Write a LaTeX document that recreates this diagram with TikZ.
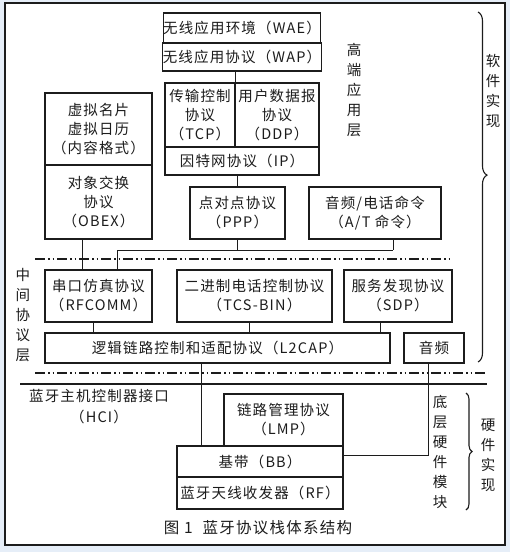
\documentclass[tikz,border=0pt]{standalone}
\usepackage{fontspec}
\setmainfont{Noto Sans CJK SC}[LetterSpace=8]
\usetikzlibrary{decorations.pathreplacing}
\definecolor{inkgray}{RGB}{28,28,28}
\definecolor{scanblue}{RGB}{230,238,248}
\newcommand{\boxfont}{\fontsize{14.5}{19}\selectfont}
\newcommand{\vfont}{\fontsize{14.5}{20}\selectfont}
\tikzset{
  box/.style={draw=inkgray, line width=1.1pt, inner sep=0pt, align=center, font=\boxfont, text=inkgray},
  vlabel/.style={align=center, inner sep=0pt, font=\vfont, text=inkgray},
  wire/.style={draw=inkgray, line width=1pt},
  layerline/.style={draw=inkgray, line width=1.4pt, dash pattern=on 10pt off 3pt on 1.5pt off 3pt on 1.5pt off 3pt},
}
\begin{document}
\begin{tikzpicture}[x=1pt, y=-1pt]
    % Frame
    \fill[scanblue] (0,0) rectangle (510,552);
    \useasboundingbox (0,0) rectangle (510,552);
    \draw[draw=inkgray, fill=white, line width=1.1pt] (5,3) rectangle (505,545);

    % High-end application layer
    \node[box, minimum width=154, minimum height=30] (wae) at (242,28) {无线应用环境（WAE）};
    \node[box, minimum width=154, minimum height=28] (wap) at (242,57) {无线应用协议（WAP）};
    \node[box, minimum width=70, minimum height=64] (tcp) at (200,115) {传输控制\\协议\\（TCP）};
    \node[box, minimum width=84, minimum height=64] (ddp) at (277,115) {用户数据报\\协议\\（DDP）};
    \node[box, minimum width=154, minimum height=28] (ip) at (242,161) {因特网协议（IP）};
    \node[box, minimum width=107, minimum height=72] (card) at (98.5,129) {虚拟名片\\虚拟日历\\（内容格式）};
    \node[box, minimum width=107, minimum height=74] (obex) at (98.5,202) {对象交换\\协议\\（OBEX）};
    \node[box, minimum width=95, minimum height=52] (ppp) at (237.5,213) {点对点协议\\（PPP）};
    \node[box, minimum width=132, minimum height=52] (atcmd) at (375,213) {音频/电话命令\\（A/T 命令）};

    % Middle protocol layer
    \node[box, minimum width=107, minimum height=52] (rfcomm) at (98.5,296) {串口仿真协议\\（RFCOMM）};
    \node[box, minimum width=155, minimum height=52] (tcs) at (254.5,296) {二进制电话控制协议\\（TCS-BIN）};
    \node[box, minimum width=108, minimum height=52] (sdp) at (398,296) {服务发现协议\\（SDP）};
    \node[box, minimum width=345, minimum height=30] (l2cap) at (217.5,348) {逻辑链路控制和适配协议（L2CAP）};
    \node[box, minimum width=60, minimum height=30] (audio) at (434,348) {音频};

    % Hardware modules
    \node[box, minimum width=119, minimum height=52] (lmp) at (283.5,420) {链路管理协议\\（LMP）};
    \node[box, minimum width=166, minimum height=31] (bb) at (260,461.5) {基带（BB）};
    \node[box, minimum width=166, minimum height=32] (rf) at (260,493) {蓝牙天线收发器（RF）};

    % Connectors
    \coordinate (busL) at (117,250);
    \coordinate (busR) at (393,250);
    \draw[wire] (wap.south -| tcp.north east) -- (tcp.north east);
    \draw[wire] (ip.south -| ppp.north) -- (ppp.north);
    \draw[wire] ([xshift=-16.5pt]obex.south) -- ([xshift=-16.5pt]rfcomm.north);
    \draw[wire] (ppp.south) -- (ppp.south |- busL);
    \draw[wire] (busL) -- (busR);
    \draw[wire] (atcmd.south -| busR) -- (busR);
    \draw[wire] (busL) -- (busL |- rfcomm.north);
    \draw[wire] ([xshift=-5.5pt]rfcomm.south) -- ([xshift=-5.5pt]rfcomm.south |- l2cap.north);
    \draw[wire] ([xshift=-5.5pt]tcs.south) -- ([xshift=-5.5pt]tcs.south |- l2cap.north);
    \draw[wire] ([xshift=-18pt]sdp.south) -- ([xshift=-18pt]sdp.south |- l2cap.north);
    \draw[wire] ([xshift=-16.5pt]l2cap.south) -- ([xshift=-16.5pt]l2cap.south |- bb.north);
    \draw[wire] ([xshift=-6pt]audio.south) |- ([yshift=6.5pt]bb.east);

    % Layer boundaries
    \draw[layerline] (35,259) -- (452,259);
    \draw[layerline] (35,373) -- (487,373);
    \draw[inkgray, line width=1.6pt] (20,384) -- (487,384);

    % Braces
    \draw[inkgray, line width=1.1pt, decorate, decoration={brace, amplitude=9pt, aspect=0.466}] (478,12) -- (478,362);
    \draw[inkgray, line width=1.1pt, decorate, decoration={brace, amplitude=6pt, aspect=0.5}] (466,393) -- (466,510);

    % Labels
    \node[vlabel] (highlayer) at (354,90) {高\\端\\应\\用\\层};
    \node[vlabel] (software) at (493,91) {软\\件\\实\\现};
    \node[vlabel] (midlayer) at (23,315) {中\\间\\协\\议\\层};
    \node[vlabel] (lowlayer) at (440,452) {底\\层\\硬\\件\\模\\块};
    \node[vlabel] (hardware) at (488,455) {硬\\件\\实\\现};
    \node[vlabel, font=\fontsize{14.5}{21}\selectfont] (hci) at (99,407) {蓝牙主机控制器接口\\（HCI）};
    \node[vlabel, font=\fontsize{15.5}{20}\selectfont] (caption) at (258,528) {图 1\hspace{10pt}蓝牙协议栈体系结构};
\end{tikzpicture}
\end{document}
